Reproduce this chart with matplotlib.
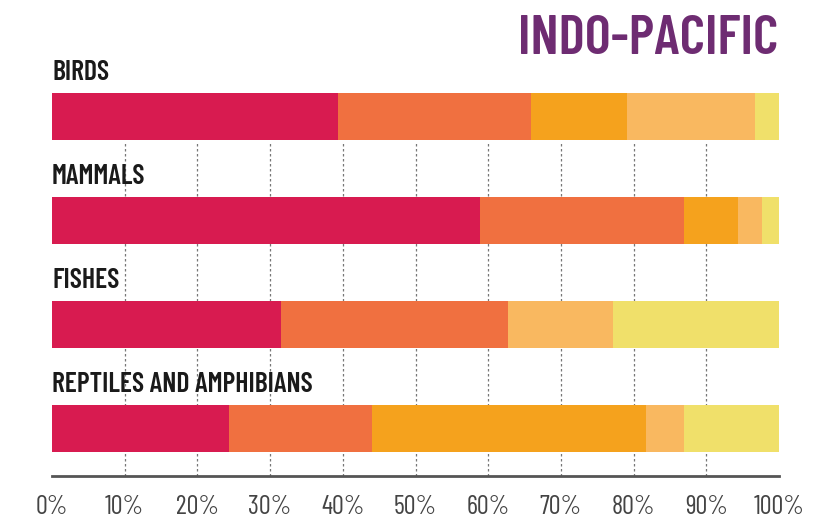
import matplotlib
matplotlib.use("Agg")
import matplotlib.pyplot as plt
import numpy as np

categories = ["BIRDS", "MAMMALS", "FISHES", "REPTILES AND AMPHIBIANS"]
seg1 = [39.3, 58.9, 31.5, 24.3]
seg2 = [26.6, 28.0, 31.2, 19.7]
seg3 = [13.2, 7.5, 0.0, 37.7]
seg4 = [17.6, 3.3, 14.5, 5.2]
seg5 = [3.3, 2.3, 22.8, 13.1]
ticks = [0, 10, 20, 30, 40, 50, 60, 70, 80, 90, 100]
tick_labels = [f"{t}%" for t in ticks]
title = "INDO-PACIFIC"

colors = ["#D81B50", "#F07040", "#F5A21D", "#F9B860", "#F0E06A"]
series = [seg1, seg2, seg3, seg4, seg5]

W, H = 833, 528
fig = plt.figure(figsize=(W / 100, H / 100), dpi=100)
fig.patch.set_facecolor("white")

ax_left, ax_right = 52, 779
ax_bottom_px, ax_top_px = 476, 60
ax = fig.add_axes([ax_left / W, 1 - ax_bottom_px / H,
                   (ax_right - ax_left) / W, (ax_bottom_px - ax_top_px) / H])
ax.set_xlim(0, 100)
ax.set_ylim(ax_bottom_px, ax_top_px)

centers = [116.5 + 104 * i for i in range(len(categories))]
bar_h = 47

for t in ticks[1:-1]:
    ax.plot([t, t], [ax_bottom_px, centers[0] + bar_h / 2 + 3], ls=(0, (2, 2)),
            color="#777777", lw=0.9, zorder=0)

left = np.zeros(len(categories))
for vals, c in zip(series, colors):
    v = np.array(vals)
    ax.barh(centers, v, left=left, height=bar_h, color=c, edgecolor="none", zorder=2)
    left += v

cond = ["Barlow Condensed", "DejaVu Sans"]
for cy, name in zip(centers, categories):
    ax.text(0, cy - bar_h / 2 - 8, name, ha="left", va="bottom",
            fontsize=20, fontweight=600, family=cond, color="#1a1a1a")

for s in ["top", "right", "left"]:
    ax.spines[s].set_visible(False)
ax.spines["bottom"].set_color("#555555")
ax.spines["bottom"].set_linewidth(2)
ax.set_yticks([])
ax.set_xticks(ticks)
ax.set_xticklabels(tick_labels, family=cond, fontsize=19, fontweight=400, color="#444444")
ax.tick_params(axis="x", length=0, pad=14)

fig.text(778 / W, 1 - 40 / H, title, ha="right", va="center", fontsize=40,
         fontweight=600, family=cond, color="#6E2C72")

fig.savefig("out.png", dpi=100)
